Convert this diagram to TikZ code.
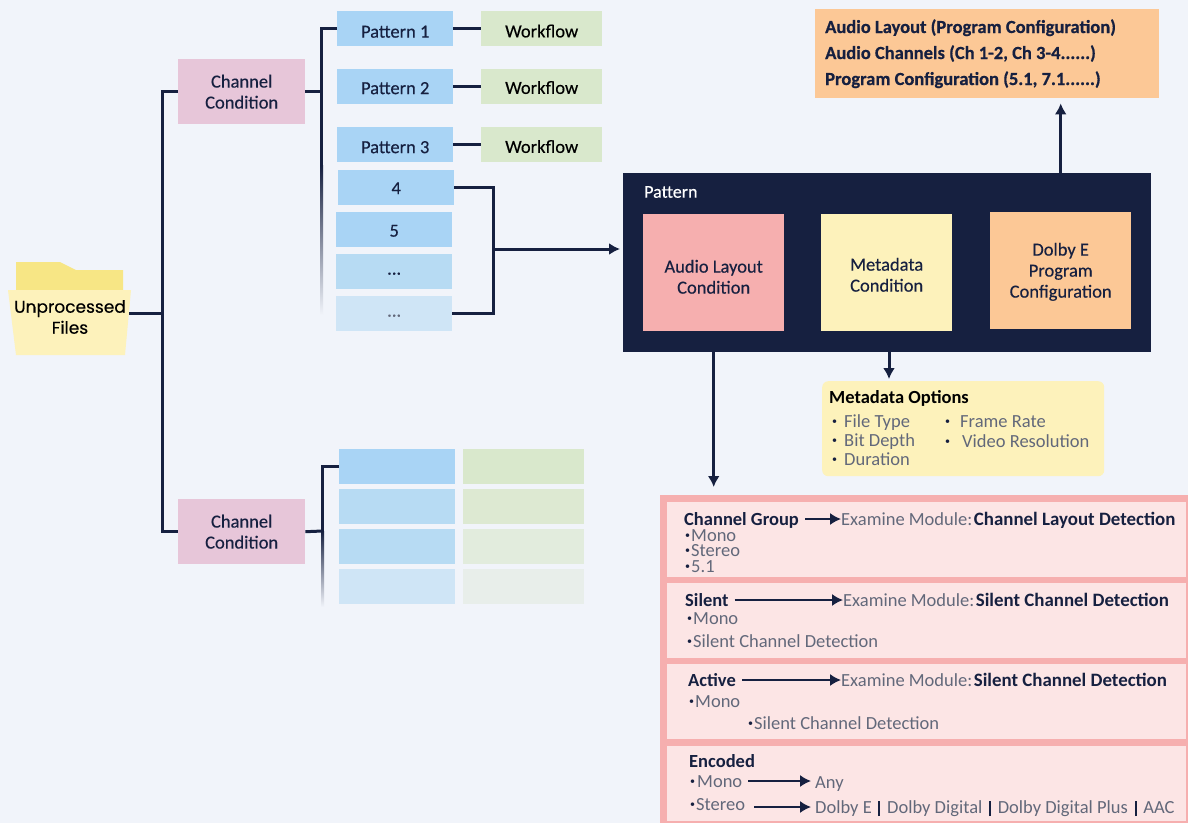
\documentclass[tikz,border=0pt]{standalone}
\usepackage{fontspec}
\setmainfont{Carlito}
\newfontfamily\cellfont{Carlito}[FakeBold=0.3]
\newfontfamily\strongfont{Carlito}[UprightFont={* Bold},FakeBold=0.5]
\newfontfamily\folderfont{Poppins}[FakeBold=0.4]
\usetikzlibrary{arrows.meta}
\definecolor{pagebg}{HTML}{F1F4FA}
\definecolor{navy}{HTML}{162040}
\definecolor{skyblue}{HTML}{A9D4F5}
\definecolor{skyfade}{HTML}{B7DBF3}
\definecolor{skypale}{HTML}{CFE5F6}
\definecolor{leaf}{HTML}{D9E8CC}
\definecolor{leaftwo}{HTML}{DDE9D2}
\definecolor{leafthree}{HTML}{E2ECDD}
\definecolor{leaffour}{HTML}{E8EEEA}
\definecolor{mauve}{HTML}{E7C6D9}
\definecolor{salmon}{HTML}{F6AFAF}
\definecolor{salmonpale}{HTML}{FCE5E5}
\definecolor{cream}{HTML}{FDF2BB}
\definecolor{apricot}{HTML}{FCC896}
\definecolor{folderback}{HTML}{F7E685}
\definecolor{softgrey}{HTML}{62687A}
\tikzset{
	cell/.style={anchor=north west,inner sep=0pt,align=center,text=navy,font=\fontsize{18.5}{21}\cellfont},
	cellsize/.style 2 args={minimum width=#1pt,minimum height=#2pt},
	lowered/.style={execute at begin node={\rule{0pt}{#1pt}}},
	link/.style={draw=navy,line width=3pt},
	thinlink/.style={draw=navy,line width=1.6pt},
	label/.style={anchor=west,inner sep=0pt,text height=13pt,text depth=1pt,text=navy,font=\fontsize{18.5}{20}\selectfont},
	heading/.style={label,font=\fontsize{18.5}{20}\selectfont\bfseries},
	strong/.style={label,font=\fontsize{18.5}{20}\strongfont},
	listed/.style={label,text=softgrey,font=\fontsize{18.5}{20}\selectfont},
	dotmark/.style={label,text height=9pt,text depth=3pt,text=navy,font=\fontsize{10}{12}\selectfont},
}
\newcommand{\modulename}[1]{\hspace{-4pt}\textcolor{navy}{\fontsize{18.9}{20}\selectfont\bfseries #1}}
\newcommand{\pipebar}{\hspace{2.5pt}\textcolor{navy}{\rule[-3pt]{2pt}{15pt}}\hspace{2.5pt}}
\begin{document}
\begin{tikzpicture}[>={Latex[length=11pt,width=12pt]},x=1pt,y=-1pt]
	\useasboundingbox [fill=pagebg] (0,0) rectangle (1188,823);
	%folder
	\fill [folderback] (16,290) -- (16,262) -- (60,262) -- (76,270) -- (123,270) -- (123,290) -- cycle;
	\fill [cream] (8,290) -- (131,290) -- (125,355) -- (16,355) -- cycle;
	\node (files) [inner sep=0pt,align=center,font=\fontsize{17}{21}\folderfont] at (70,317) {Unprocessed\\Files};
	\coordinate (filesout) at (129,313);
	\coordinate (trunk) at (162,313);
	%first channel
	\node (chanone) [cell,fill=mauve,cellsize={127}{65}] at (178,59) {Channel\\Condition};
	\node (patone) [cell,fill=skyblue,lowered=18,cellsize={116}{35}] at (337,11) {Pattern 1};
	\node (pattwo) [cell,fill=skyblue,lowered=15,cellsize={116}{35}] at (337,69) {Pattern 2};
	\node (patthree) [cell,fill=skyblue,lowered=17,cellsize={116}{35}] at (337,127) {Pattern 3};
	\node (patfour) [cell,fill=skyblue,lowered=13,cellsize={116}{35}] at (338,170) {4};
	\node (patfive) [cell,fill=skyblue,lowered=14,cellsize={116}{35}] at (336,212) {5};
	\node (patsix) [cell,fill=skyfade,lowered=6,cellsize={116}{35}] at (336,254) {...};
	\node (patseven) [cell,fill=skypale,lowered=6,text=softgrey,cellsize={116}{35}] at (336,296) {...};
	\node (flowone) [cell,fill=leaf,lowered=17.5,text=black,cellsize={121}{35}] at (481,11) {Workflow};
	\node (flowtwo) [cell,fill=leaf,lowered=14.5,text=black,cellsize={121}{35}] at (481,69) {Workflow};
	\node (flowthree) [cell,fill=leaf,lowered=16.5,text=black,cellsize={121}{35}] at (481,127) {Workflow};
	%second channel
	\node (chantwo) [cell,fill=mauve,cellsize={127}{65}] at (178,499) {Channel\\Condition};
	\node (blueone) [cell,fill=skyblue,cellsize={116}{35}] at (339,449) {};
	\node (bluetwo) [cell,fill=skyfade,cellsize={116}{35}] at (339,489) {};
	\node (bluethree) [cell,fill=skyfade,cellsize={116}{35}] at (339,529) {};
	\node (bluefour) [cell,fill=skypale,cellsize={116}{35}] at (339,569) {};
	\node (greenone) [cell,fill=leaf,cellsize={121}{35}] at (463,449) {};
	\node (greentwo) [cell,fill=leaftwo,cellsize={121}{35}] at (463,489) {};
	\node (greenthree) [cell,fill=leafthree,cellsize={121}{35}] at (463,529) {};
	\node (greenfour) [cell,fill=leaffour,cellsize={121}{35}] at (463,569) {};
	%tree lines
	\draw [link] (filesout) -- (trunk);
	\draw [link] (chanone.west) -| (trunk) |- (chantwo.west);
	\coordinate (fadeone) at (321.5,165);
	\coordinate (fadetwo) at (322.5,531);
	\draw [link] (patone.west) -| (fadeone);
	\draw [link] (chanone.east) -- (chanone.east -| fadeone);
	\shade [top color=navy,bottom color=pagebg] (320,165) rectangle (323,315);
	\draw [link] (blueone.west) -| (fadetwo);
	\draw [link] (chantwo.east) -- (fadetwo);
	\shade [top color=navy,bottom color=pagebg] (321,531) rectangle (324,607);
	\draw [link] (patone.east) -- (flowone.west);
	\draw [link] (pattwo.east) -- (flowtwo.west);
	\draw [link] (patthree.east) -- (flowthree.west);
	%pattern panel
	\node (panel) [cell,fill=navy,cellsize={528}{179}] at (623,173) {};
	\node (panelname) [anchor=west,inner sep=0pt,text=white,font=\fontsize{18}{20}\cellfont] at (644,192) {Pattern};
	\node (audio) [cell,fill=salmon,lowered=42,cellsize={141}{117}] at (643,214) {Audio Layout\\Condition};
	\node (meta) [cell,fill=cream,lowered=38,cellsize={131}{117}] at (821,214) {Metadata\\Condition};
	\node (dolby) [cell,fill=apricot,lowered=57,cellsize={141}{117}] at (990,212) {Dolby E\\Program\\Configuration};
	\coordinate (join) at (493,249);
	\draw [link] (patfour.east) -| (join) |- (patseven.east);
	\draw [link,->,shorten >=3pt] (join) -- (join -| panel.west);
	%program box
	\node (program) [cell,fill=apricot,cellsize={344}{89}] at (815,9) {};
	\node (progone) [strong] at (825,27) {Audio Layout (Program Configuration)};
	\node (progtwo) [strong] at (825,53) {Audio Channels (Ch 1-2, Ch 3-4......)};
	\node (progthree) [strong] at (825,79) {Program Configuration (5.1, 7.1......)};
	\draw [link,->,shorten >=5pt] (dolby.north |- panel.north) -- (dolby.north |- program.south);
	%metadata options
	\node (options) [cell,fill=cream,rounded corners=6pt,cellsize={282}{95}] at (822,381) {};
	\node (optname) [heading,text=black] at (829,397) {Metadata Options};
	\node (filemark) [dotmark] at (832,421) {•};
	\node (filetype) [listed] at (844,421) {File Type};
	\node (bitmark) [dotmark] at (832,440) {•};
	\node (bitdepth) [listed] at (844,440) {Bit Depth};
	\node (durmark) [dotmark] at (832,459) {•};
	\node (duration) [listed] at (844,459) {Duration};
	\node (framemark) [dotmark] at (945,421) {•};
	\node (framerate) [listed] at (960,421) {Frame Rate};
	\node (videomark) [dotmark] at (945,441) {•};
	\node (video) [listed] at (962,441) {Video Resolution};
	\coordinate (metaout) at (889,352);
	\draw [link,->,shorten >=2pt] (metaout) -- (metaout |- options.north);
	%audio layout panel
	\node (layout) [cell,fill=salmon,cellsize={528}{328}] at (660,495) {};
	\node (groupcell) [cell,fill=salmonpale,cellsize={519}{75}] at (667,502) {};
	\node (silentcell) [cell,fill=salmonpale,cellsize={519}{75}] at (667,583) {};
	\node (activecell) [cell,fill=salmonpale,cellsize={519}{75}] at (667,664) {};
	\node (encodedcell) [cell,fill=salmonpale,cellsize={519}{75}] at (667,746) {};
	\draw [link,->,shorten >=8pt] (audio.south |- panel.south) -- (audio.south |- layout.north);
	%channel group
	\node (grouphead) [heading] at (684,519) {Channel Group};
	\node (groupmod) [listed] at (841,519) {Examine Module: \modulename{Channel Layout Detection}};
	\draw [thinlink,->,shorten <=6pt] (grouphead) -- (groupmod);
	\node (monomark) [dotmark] at (685,535) {•};
	\node (monotext) [listed] at (691,535) {Mono};
	\node (stereomark) [dotmark] at (685,550) {•};
	\node (stereotext) [listed] at (691,550) {Stereo};
	\node (surroundmark) [dotmark] at (685,566) {•};
	\node (surroundtext) [listed] at (691,566) {5.1};
	%silent
	\node (silenthead) [heading] at (685,600) {Silent};
	\node (silentmod) [listed] at (843,600) {Examine Module: \modulename{Silent Channel Detection}};
	\draw [thinlink,->,shorten <=6pt] (silenthead) -- (silentmod);
	\node (silentmark) [dotmark] at (687,618) {•};
	\node (silentmono) [listed] at (693,618) {Mono};
	\node (detectmark) [dotmark] at (687,641) {•};
	\node (detecttext) [listed] at (693,641) {Silent Channel Detection};
	%active
	\node (activehead) [heading] at (688,680) {Active};
	\node (activemod) [listed] at (841,680) {Examine Module: \modulename{Silent Channel Detection}};
	\draw [thinlink,->,shorten <=6pt] (activehead) -- (activemod);
	\node (activemark) [dotmark] at (689,701) {•};
	\node (activemono) [listed] at (695,701) {Mono};
	\node (activedetmark) [dotmark] at (748,723) {•};
	\node (activedet) [listed] at (754,723) {Silent Channel Detection};
	%encoded
	\node (encodedhead) [heading] at (689,761) {Encoded};
	\node (encmark) [dotmark] at (690,781) {•};
	\node (encmono) [listed] at (697,781) {Mono};
	\node (encany) [listed] at (815,782) {Any};
	\draw [thinlink,->,shorten <=6pt,shorten >=4pt] (encmono) -- (encmono -| encany.west);
	\node (encstmark) [dotmark] at (690,804) {•};
	\node (encstereo) [listed] at (696,804) {Stereo};
	\node (encdolby) [listed] at (815,807) {Dolby E \pipebar{} Dolby Digital \pipebar{} Dolby Digital Plus \pipebar{} AAC};
	\draw [thinlink,->,shorten <=9pt,shorten >=4pt] (encstereo.east |- encdolby) -- (encdolby);
\end{tikzpicture}
\end{document}
